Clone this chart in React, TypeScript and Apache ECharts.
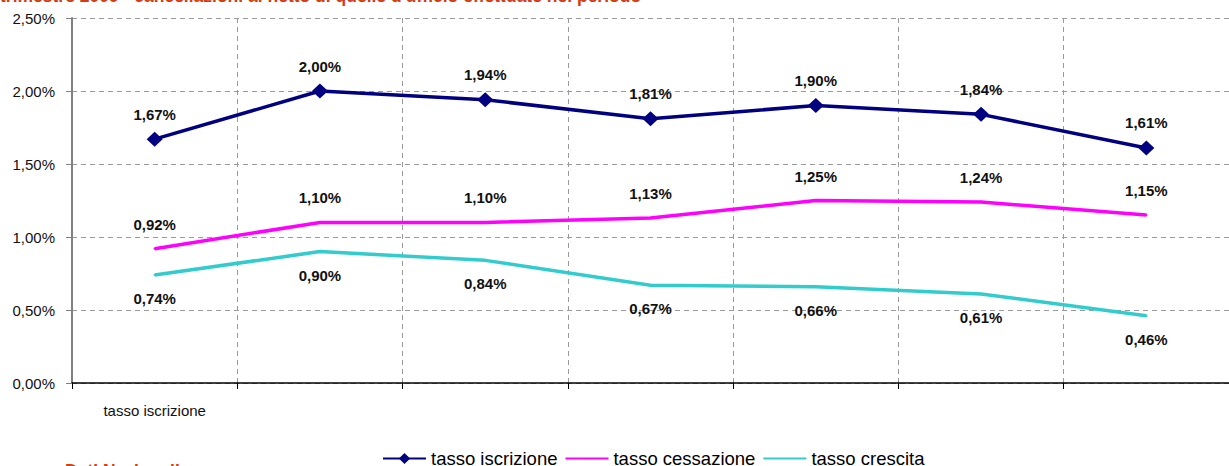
import React, { useEffect, useRef } from "react";
import * as echarts from "echarts";

const categories = ["tasso iscrizione", "", "", "", "", "", ""];
const tassoIscrizione = [1.67, 2.0, 1.94, 1.81, 1.9, 1.84, 1.61];
const tassoCessazione = [0.92, 1.1, 1.1, 1.13, 1.25, 1.24, 1.15];
const tassoCrescita = [0.74, 0.9, 0.84, 0.67, 0.66, 0.61, 0.46];
const seriesNames = ["tasso iscrizione", "tasso cessazione", "tasso crescita"];
const titleText = "trimestre 2009 - cancellazioni al netto di quelle d'ufficio effettuate nel periodo";
const footText = "Dati Nazionali";

const pct = (v: number) => v.toFixed(2).replace(".", ",") + "%";
const NARROW = "'Liberation Sans Narrow', 'Arial Narrow', 'Liberation Sans', Arial, sans-serif";
const ARIAL = "'Liberation Sans', Arial, sans-serif";

export default function App() {
  const ref = useRef<HTMLDivElement>(null);
  useEffect(() => {
    document.body.style.margin = "0";
    if (!ref.current) return;
    const chart = echarts.init(ref.current, undefined, { renderer: "svg" });
    const labelBase = {
      show: true,
      fontFamily: ARIAL,
      fontWeight: "bold" as const,
      fontSize: 15,
      color: "#111",
      formatter: (p: any) => pct(p.value),
    };
    chart.setOption({
      animation: false,
      backgroundColor: "#fff",
      grid: { left: 72, right: -9, top: 18, bottom: 83 },
      xAxis: {
        type: "category",
        data: categories,
        boundaryGap: true,
        axisLine: { lineStyle: { color: "#000", width: 1.5 } },
        axisTick: { show: true, length: 6, lineStyle: { color: "#000" } },
        axisLabel: { fontFamily: NARROW, fontSize: 15, color: "#111", margin: 20, interval: 0 },
        splitLine: { show: true, lineStyle: { color: "#9a9a9a", type: [5, 4], width: 1 } },
      },
      yAxis: {
        type: "value",
        min: 0,
        max: 2.5,
        interval: 0.5,
        axisLine: { show: true, lineStyle: { color: "#808080", width: 2 } },
        axisTick: { show: true, length: 6, lineStyle: { color: "#808080" } },
        axisLabel: { fontFamily: NARROW, fontSize: 15, color: "#111", margin: 17, formatter: pct },
        splitLine: { show: true, lineStyle: { color: "#9a9a9a", type: [5, 4], width: 1 } },
      },
      legend: {
        left: 377,
        top: 444,
        padding: 5,
        itemWidth: 43,
        itemHeight: 14,
        itemGap: 7,
        textStyle: { fontFamily: ARIAL, fontSize: 18.5, color: "#000" },
        data: [
          { name: seriesNames[0] },
          { name: seriesNames[1], itemStyle: { color: "rgba(0,0,0,0)", borderWidth: 0 } },
          { name: seriesNames[2], itemStyle: { color: "rgba(0,0,0,0)", borderWidth: 0 } },
        ],
      },
      series: [
        {
          name: seriesNames[0],
          type: "line",
          data: tassoIscrizione,
          symbol: "diamond",
          symbolSize: [16, 15],
          lineStyle: { color: "#000080", width: 3.5 },
          itemStyle: { color: "#000080" },
          label: { ...labelBase, position: "top", distance: 10 },
          z: 4,
        },
        {
          name: seriesNames[1],
          type: "line",
          data: tassoCessazione,
          symbol: "circle",
          symbolSize: 2,
          lineStyle: { color: "#ff00ff", width: 3.5 },
          itemStyle: { color: "#ff00ff" },
          label: { ...labelBase, position: "top", distance: 16 },
          z: 3,
        },
        {
          name: seriesNames[2],
          type: "line",
          data: tassoCrescita,
          symbol: "circle",
          symbolSize: 2,
          lineStyle: { color: "#33cccc", width: 3.5 },
          itemStyle: { color: "#33cccc" },
          label: { ...labelBase, position: "bottom", distance: 15 },
          z: 2,
        },
      ],
      graphic: [
        {
          type: "text",
          left: 0,
          top: -13,
          style: { text: titleText, fontFamily: ARIAL, fontWeight: "bold", fontSize: 17.5, fill: "#d33c14" },
        },
        {
          type: "text",
          left: 65,
          top: 462,
          style: { text: footText, fontFamily: ARIAL, fontWeight: "bold", fontSize: 17.5, fill: "#d33c14" },
        },
      ],
    });
    return () => chart.dispose();
  }, []);
  return <div ref={ref} style={{ width: 1229, height: 466 }} />;
}
